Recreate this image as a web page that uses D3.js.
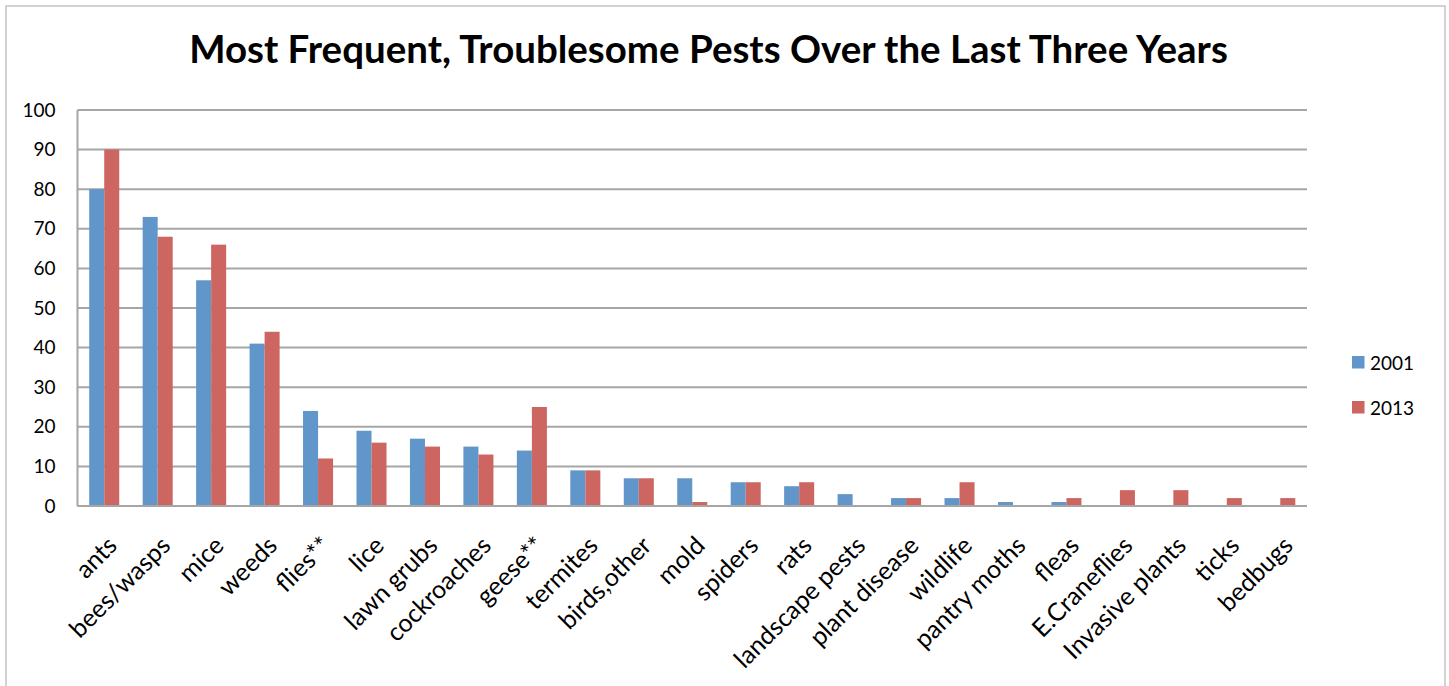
<!DOCTYPE html>
<html>
<head>
<meta charset="utf-8">
<script src="https://cdn.jsdelivr.net/npm/d3@7"></script>
<style>
  html, body { margin: 0; padding: 0; background: #fff; }
  svg { display: block; }
  text { font-family: Lato, "Liberation Sans", sans-serif; fill: #000; }
</style>
</head>
<body>
<svg id="chart" width="1449" height="686"></svg>
<script>
// Pest categories, in the order shown on the axis
const categories = [
  "ants", "bees/wasps", "mice", "weeds", "flies**", "lice", "lawn grubs",
  "cockroaches", "geese**", "termites", "birds,other", "mold", "spiders",
  "rats", "landscape pests", "plant disease", "wildlife", "pantry moths",
  "fleas", "E.Craneflies", "Invasive plants", "ticks", "bedbugs"
];
const seriesNames = ["2001", "2013"];
const values2001 = [80, 73, 57, 41, 24, 19, 17, 15, 14, 9, 7, 7, 6, 5, 3, 2, 2, 1, 1, 0, 0, 0, 0];
const values2013 = [90, 68, 66, 44, 12, 16, 15, 13, 25, 9, 7, 1, 6, 6, 0, 2, 6, 0, 2, 4, 4, 2, 2];
const yTicks = [0, 10, 20, 30, 40, 50, 60, 70, 80, 90, 100];
const titleText = "Most Frequent, Troublesome Pests Over the Last Three Years";

const colors = { "2001": "#6096C9", "2013": "#CD6660" };

const svg = d3.select("#chart");
const plot = { left: 77.5, right: 1307, top: 110, bottom: 506 };

// outer chart frame
svg.append("rect")
  .attr("x", 6).attr("y", 6).attr("width", 1439).attr("height", 690)
  .attr("fill", "#fff").attr("stroke", "#c4c4c4").attr("stroke-width", 1.5);

const x0 = d3.scaleBand().domain(categories).range([plot.left, plot.right]).paddingInner(0).paddingOuter(0);
const x1 = d3.scaleBand().domain(seriesNames).range([0, x0.bandwidth()]).paddingInner(0).paddingOuter(0.78);
const y = d3.scaleLinear().domain([0, 100]).range([plot.bottom, plot.top]);

// horizontal gridlines
svg.append("g").selectAll("line").data(yTicks).join("line")
  .attr("x1", plot.left).attr("x2", plot.right)
  .attr("y1", d => y(d)).attr("y2", d => y(d))
  .attr("stroke", "#a6a6a6").attr("stroke-width", 2);

// bars
const rows = categories.map((c, i) => ({ cat: c, vals: [
  { s: "2001", v: values2001[i] }, { s: "2013", v: values2013[i] }
]}));
const groups = svg.append("g").selectAll("g").data(rows).join("g")
  .attr("transform", d => `translate(${x0(d.cat)},0)`);
groups.selectAll("rect").data(d => d.vals.filter(e => e.v > 0)).join("rect")
  .attr("x", d => x1(d.s))
  .attr("width", x1.bandwidth())
  .attr("y", d => y(d.v))
  .attr("height", d => y(0) - y(d.v))
  .attr("fill", d => colors[d.s]);

// axis lines
svg.append("line").attr("x1", plot.left).attr("x2", plot.left)
  .attr("y1", plot.top).attr("y2", plot.bottom)
  .attr("stroke", "#a6a6a6").attr("stroke-width", 2);
svg.append("line").attr("x1", plot.left).attr("x2", plot.right)
  .attr("y1", plot.bottom).attr("y2", plot.bottom)
  .attr("stroke", "#a6a6a6").attr("stroke-width", 2);

// y tick labels
const yAxis = d3.axisLeft(y).tickValues(yTicks).tickSize(0).tickPadding(22);
const yg = svg.append("g").attr("transform", `translate(${plot.left},0)`).call(yAxis);
yg.select(".domain").remove();
yg.selectAll("text").attr("font-size", 19).attr("font-family", "Lato, sans-serif").attr("fill", "#000");

// x category labels, rotated
const xAxis = d3.axisBottom(x0).tickSize(0).tickPadding(0);
const xg = svg.append("g").attr("transform", `translate(0,${plot.bottom})`).call(xAxis);
xg.select(".domain").remove();
xg.selectAll(".tick text")
  .attr("font-size", 25).attr("font-family", "Lato, sans-serif").attr("fill", "#000")
  .attr("text-anchor", "end")
  .attr("y", 0).attr("dy", "0.35em")
  .attr("transform", "translate(8,35) rotate(-45)");

// title
const title = svg.append("text")
  .attr("x", 708.5).attr("y", 63)
  .attr("text-anchor", "middle")
  .attr("font-weight", "bold")
  .attr("font-size", 36)
  .text(titleText);
const tw = title.node().getComputedTextLength();
title.attr("font-size", 36 * 1039 / tw);

// legend
const legend = svg.append("g").selectAll("g").data(seriesNames).join("g")
  .attr("transform", (d, i) => `translate(1352,${356 + i * 45})`);
legend.append("rect").attr("width", 12.5).attr("height", 12.5).attr("fill", d => colors[d]);
legend.append("text").attr("x", 18).attr("y", 13.5).attr("font-size", 19).text(d => d);
</script>
</body>
</html>
